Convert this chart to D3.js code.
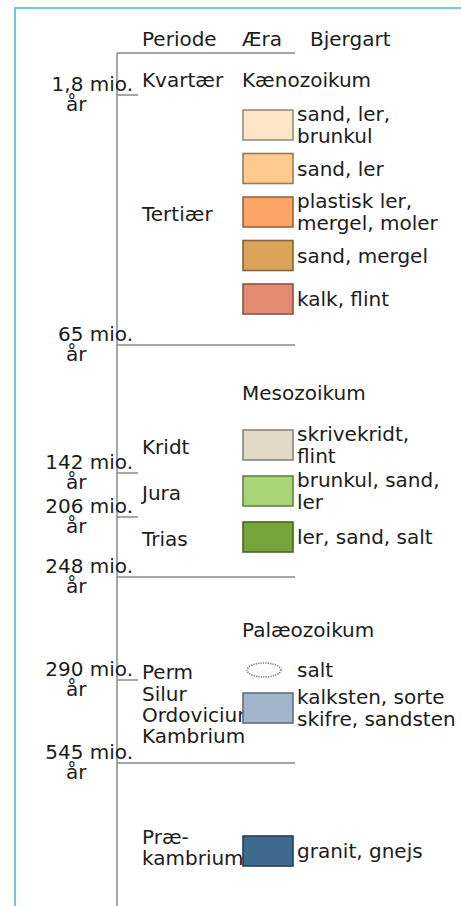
<!DOCTYPE html>
<html>
<head>
<meta charset="utf-8">
<script src="https://cdn.jsdelivr.net/npm/d3@7"></script>
<style>
body { margin: 0; background: #fff; }
text { font-family: "DejaVu Sans", Verdana, sans-serif; font-size: 20px; fill: #1c1c1c; }
.line { stroke: #8a8a8a; stroke-width: 1.5; }
.frame { stroke: #70c6e6; stroke-width: 2; fill: none; }
</style>
</head>
<body>
<script>
var width = 461, height = 906;

// data
var columns = ["Periode", "Æra", "Bjergart"];
var boundaryAges = [0, 1.8, 65, 142, 206, 248, 290, 545];
var boundaryLabels = ["", "1,8 mio.", "65 mio.", "142 mio.", "206 mio.", "248 mio.", "290 mio.", "545 mio."];
var eras = ["Kænozoikum", "Mesozoikum", "Palæozoikum", ""];
var eraStart = [0, 65, 248, 545];
var rocks = [
	["sand, ler,", "brunkul"],
	["sand, ler"],
	["plastisk ler,", "mergel, moler"],
	["sand, mergel"],
	["kalk, flint"],
	["skrivekridt,", "flint"],
	["brunkul, sand,", "ler"],
	["ler, sand, salt"],
	["salt"],
	["kalksten, sorte", "skifre, sandsten"],
	["granit, gnejs"]
];
var rockEra = [0, 0, 0, 0, 0, 1, 1, 1, 2, 2, 3];
var rockColors = ["#fde6c8", "#fecb8e", "#fba466", "#dca459", "#e38a72",
	"#e2d9c7", "#a9d577", "#76a43a", null, "#a1b5cc", "#3e6a8f"];
var periods = [["Kvartær"], ["Tertiær"], ["Kridt"], ["Jura"], ["Trias"], ["Perm"],
	["Silur", "Ordovicium", "Kambrium"], ["Præ-", "kambrium"]];
var periodRocks = [[], [0, 1, 2, 3, 4], [5], [6], [7], [8], [9], [10]];

// layout
var colX = [142, 242, 310];
var axisX = 117, tickX = 138, lineEnd = 295;
var swX = 243, swW = 50, swH = 30, textX = 297, lineH = 22;
var eraLayout = [{head: 34, top: 57, step: 43.5}, {head: 55, top: 85, step: 46},
	{head: 60, top: 78, step: 38}, {head: 0, top: 73, step: 44}];

var svg = d3.select("body").append("svg")
	.attr("width", width)
	.attr("height", height);

svg.append("path").attr("class", "frame")
	.attr("d", "M15," + height + "V8H" + width);

var y = d3.scaleLinear()
	.domain(boundaryAges)
	.range([53, 95, 345, 473, 517, 577, 680, 763]);

// headers
svg.append("g").selectAll("text")
	.data(columns)
	.enter().append("text")
	.attr("x", function(d, i){return colX[i];})
	.attr("y", 46)
	.text(function(d){return d;});

// time axis
svg.append("line").attr("class", "line")
	.attr("x1", axisX).attr("y1", y(0)).attr("x2", axisX).attr("y2", height);

var bounds = svg.append("g").selectAll("g")
	.data(boundaryAges)
	.enter().append("g")
	.attr("transform", function(d){return "translate(0," + y(d) + ")";});

bounds.append("line").attr("class", "line")
	.attr("x1", axisX)
	.attr("x2", function(d){return eraStart.indexOf(d) >= 0 ? lineEnd : tickX;});

bounds.filter(function(d, i){return boundaryLabels[i];})
	.each(function(d){
		var g = d3.select(this), i = boundaryAges.indexOf(d);
		g.append("text").attr("x", 133).attr("y", -4)
			.attr("text-anchor", "end").text(boundaryLabels[i]);
		g.append("text").attr("x", 66).attr("y", 16).text("år");
	});

// rows per era
var rowY = eras.map(function(e, k){
	var L = eraLayout[k];
	var members = d3.range(rocks.length).filter(function(i){return rockEra[i] === k;});
	var y0 = y(eraStart[k]) + L.top;
	return d3.scaleBand()
		.domain(members)
		.range([y0, y0 + L.step * (members.length - 1) + swH])
		.paddingInner(members.length > 1 ? 1 - swH / L.step : 0);
});
function rockTop(i){return rowY[rockEra[i]](i);}

svg.append("g").selectAll("text")
	.data(eras.filter(function(d){return d;}))
	.enter().append("text")
	.attr("x", colX[1])
	.attr("y", function(d, k){return y(eraStart[k]) + eraLayout[k].head;})
	.text(function(d){return d;});

// period labels
svg.append("g").selectAll("text")
	.data(periods)
	.enter().append("text")
	.each(function(lines, p){
		var idx = periodRocks[p], base;
		if(!idx.length){
			base = y(eraStart[0]) + eraLayout[0].head;
		} else {
			var top = rockTop(idx[0]), bottom = rockTop(idx[idx.length - 1]) + swH;
			base = lines.length > 1 ? top + 8 : (top + bottom) / 2 + 9;
		}
		d3.select(this).selectAll("tspan")
			.data(lines)
			.enter().append("tspan")
			.attr("x", colX[0])
			.attr("y", function(d, j){return base + j * 21;})
			.text(function(d){return d;});
	});

// rock swatches
var rock = svg.append("g").selectAll("g")
	.data(rocks)
	.enter().append("g")
	.attr("transform", function(d, i){return "translate(0," + rockTop(i) + ")";});

rock.filter(function(d, i){return rockColors[i];})
	.append("rect")
	.attr("x", swX).attr("width", swW).attr("height", swH)
	.attr("fill", function(d){return rockColors[rocks.indexOf(d)];})
	.attr("stroke", function(d){return d3.color(rockColors[rocks.indexOf(d)]).darker(1.4);})
	.attr("stroke-width", 1.6);

rock.filter(function(d, i){return !rockColors[i];})
	.append("ellipse")
	.attr("cx", swX + 21).attr("cy", swH / 2)
	.attr("rx", 17).attr("ry", 7)
	.attr("fill", "#fff").attr("stroke", "#777")
	.attr("stroke-width", 1.6).attr("stroke-dasharray", "1.2,1.2");

rock.append("text")
	.selectAll("tspan")
	.data(function(d){return d;})
	.enter().append("tspan")
	.attr("x", textX)
	.attr("y", function(d, j, n){return swH / 2 + 7 + (j - (n.length - 1) / 2) * lineH;})
	.text(function(d){return d;});
</script>
</body>
</html>
